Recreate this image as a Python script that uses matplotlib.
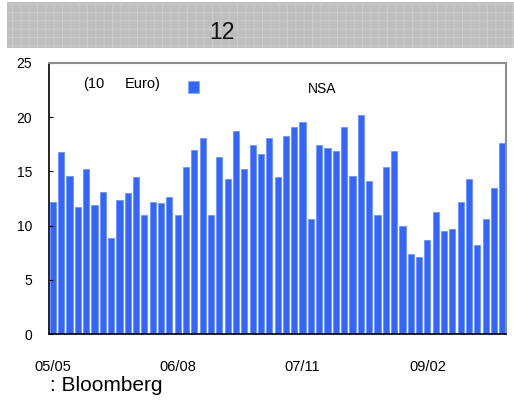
import matplotlib

matplotlib.use("Agg")
import matplotlib.pyplot as plt
from matplotlib.patches import Rectangle

plt.rcParams["font.family"] = ["Liberation Sans", "DejaVu Sans"]
plt.rcParams["hatch.linewidth"] = 0.6

# monthly values, 05/05 .. 09/11 (10 bn Euro)
values = [
    12.2, 16.8, 14.6, 11.7, 15.2, 11.9, 13.1, 8.9, 12.4, 13.0,
    14.5, 10.95, 12.2, 12.1, 12.6, 10.95, 15.4, 17.0, 18.1, 10.95,
    16.3, 14.3, 18.7, 15.2, 17.4, 16.6, 18.1, 14.5, 18.3, 19.1,
    19.6, 10.6, 17.4, 17.2, 16.9, 19.1, 14.6, 20.2, 14.1, 10.95,
    15.4, 16.9, 10.0, 7.4, 7.1, 8.7, 11.3, 9.5, 9.7, 12.2,
    14.3, 8.2, 10.6, 13.5, 17.6,
]
tick_pos = [0, 15, 30, 45]
tick_labels = ["05/05", "06/08", "07/11", "09/02"]
y_ticks = [0, 5, 10, 15, 20, 25]

bar_color = "#3366ff"

fig = plt.figure(figsize=(5.14, 4.03), dpi=100)
fig.patch.set_facecolor("white")

# grey header band with title number
band = Rectangle((7 / 514, 1 - 48 / 403), 1 - 7 / 514, 46 / 403,
                 transform=fig.transFigure, facecolor="#bebebe",
                 edgecolor="#cdcdcd", hatch="++", linewidth=0)
fig.patches.append(band)
fig.text(222 / 514, 1 - 39 / 403, "12", fontsize=16.5, ha="center",
         va="baseline", color="#111111")

ax = fig.add_axes([49 / 514, 69 / 403, 457 / 514, 271 / 403])
x = list(range(len(values)))
ax.bar(x, values, width=0.74, color=bar_color, edgecolor="#6f93ff",
       linewidth=0.6)

ax.set_xlim(-0.46, 54.44)
ax.set_ylim(0, 25)
ax.set_yticks(y_ticks)
ax.set_yticklabels([str(v) for v in y_ticks], fontsize=10)
ax.set_xticks(tick_pos)
ax.set_xticklabels(tick_labels, fontsize=10.5)
ax.tick_params(axis="x", length=0, pad=18.5)
ax.tick_params(axis="y", direction="in", length=3, pad=12)

for side in ("left", "bottom"):
    ax.spines[side].set_color("black")
    ax.spines[side].set_linewidth(1.2)
for side in ("top", "right"):
    ax.spines[side].set_color("#8c8c8c")
    ax.spines[side].set_linewidth(1.5)

# unit label, legend marker and series name inside the plot
fig.text(83 / 514, 1 - 88 / 403, "(10", fontsize=10.5, va="baseline")
fig.text(125 / 514, 1 - 88 / 403, "Euro)", fontsize=10.5, va="baseline")
fig.patches.append(Rectangle((188 / 514, 1 - 93 / 403), 11 / 514, 12 / 403,
                             transform=fig.transFigure, facecolor=bar_color,
                             edgecolor="#8aa6ff", linewidth=0.6))
fig.text(308 / 514, 1 - 93 / 403, "NSA", fontsize=10, va="baseline")

fig.text(50 / 514, 1 - 391 / 403, ": Bloomberg", fontsize=15, va="baseline")

fig.savefig("out.png", dpi=100)
